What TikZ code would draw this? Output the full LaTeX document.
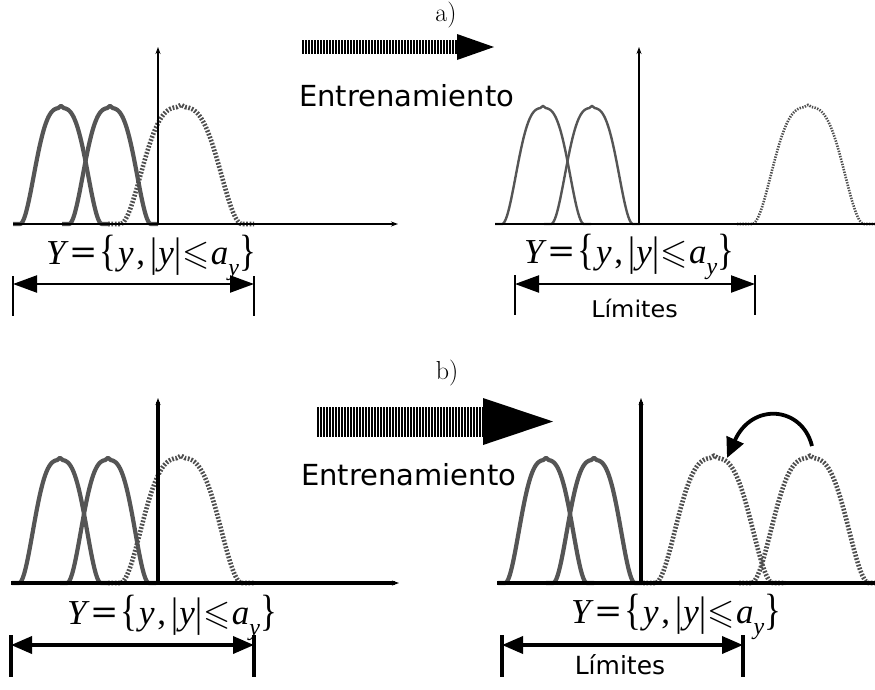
\documentclass[tikz,border=0pt]{standalone}
\usepackage{fontspec}
\usepackage{amssymb}
\usepackage{graphicx}
\usetikzlibrary{arrows.meta}
\newfontfamily\dejavu{DejaVu Sans}
\newfontfamily\libser{Liberation Serif}
\definecolor{curvegray}{HTML}{555555}
\definecolor{dotgray}{HTML}{4E4E4E}

\newcommand\ybar{\raisebox{-0.06em}{\scalebox{1}[1.18]{\libser |}}}
\newcommand\yformula{%
{\libser\itshape Y}\hspace{0.14em}\scalebox{1.3}[1]{\libser\bfseries =}\hspace{0.08em}\raisebox{-0.05em}{\scalebox{1}[1.25]{\libser\{}}\hspace{0.06em}{\libser\itshape y}\hspace{0.08em}{\libser ,}\hspace{0.14em}\ybar\hspace{0.04em}{\libser\itshape y}\hspace{0.02em}\ybar\hspace{0.02em}$\leqslant$\hspace{0.04em}{\libser\itshape a}\raisebox{-0.32em}{\libser\itshape\fontsize{24}{24}\selectfont y}\raisebox{-0.05em}{\scalebox{1}[1.25]{\libser\}}}}

\newcommand\bellcurve[6]{%
  \draw[#1] ({#2-#3-#6},#4) -- plot[domain=-1:1,samples=121] ({#2+#3*\x},{#4-#5*bellf(\x)}) -- ({#2+#3+#6},#4);}

\tikzset{
  declare function={bellf(\u)=0.5*(1+cos(180*pow(abs(\u)+0.0001,1.45)))+0.018*max(0,1-abs(\u)/0.07);},
  solidthick/.style={draw=curvegray,line width=4.2pt,line join=round},
  solidthin/.style={draw=curvegray,line width=2.4pt,line join=round},
  dotthick/.style={draw=dotgray,line width=4.6pt,dash pattern=on 1.8pt off 1.6pt},
  dotthin/.style={draw=dotgray,line width=2.6pt,dash pattern=on 1.4pt off 1.3pt},
  axisthin/.style={draw=black,line width=2.2pt},
  axisthick/.style={draw=black,line width=3.6pt},
  axtip/.style={-{Stealth[length=7pt,width=5pt]}},
  dimthin/.style={draw=black,line width=2.2pt,{Triangle[length=24pt,width=17pt]}-{Triangle[length=24pt,width=17pt]}},
  dimthick/.style={draw=black,line width=3.6pt,{Triangle[length=21pt,width=17pt]}-{Triangle[length=21pt,width=17pt]}},
  tickthin/.style={draw=black,line width=2.6pt},
  tickthick/.style={draw=black,line width=4pt},
  fml/.style={font=\fontsize{35}{35}\selectfont,anchor=base,inner sep=0pt},
  sans/.style={font=\dejavu\fontsize{29}{29}\selectfont,anchor=base west,inner sep=0pt},
  lbl/.style={font=\fontsize{26}{26}\selectfont,inner sep=0pt,anchor=base},
}

\begin{document}
\begin{tikzpicture}[x=1pt,y=-1pt]
\useasboundingbox (0,0) rectangle (875,689);

% ---------- labels a) b)
\node[lbl] (la) at (446,21) {a)};
\node[lbl] (lb) at (447,379) {b)};

% ---------- hatched arrows
\foreach \i in {0,...,51} \fill[black] ({302+3*\i},40) rectangle ++(1.7,14);
\fill[black] (457,34) -- (494,47) -- (457,60) -- cycle;
\foreach \i in {0,...,55} \fill[black] ({317+3*\i},407) rectangle ++(1.7,30);
\fill[black] (483,398) -- (553,421.5) -- (483,445) -- cycle;

\node[sans] (e1) at (299,106) {Entrenamiento};
\node[sans] (e2) at (301,485) {Entrenamiento};

% ================= TOP LEFT
\coordinate (tlo) at (158,224);
\coordinate (tlx) at (398,224);
\coordinate (tly) at (158,47);
\coordinate (tlx0) at (13,224);
\bellcurve{solidthick}{61}{41}{224}{116}{7}
\bellcurve{solidthick}{110}{41}{224}{116}{7}
\bellcurve{dotthick}{181}{61}{224}{117}{12}
\draw[axisthin,axtip] (tlx0) -- (tlx);
\draw[axisthin,axtip] (tlo) -- (tly);
\node[fml] (f1) at (151,264) {\yformula};
\coordinate (d1a) at (13,284);
\coordinate (d1b) at (254,284);
\draw[tickthin] (13,276) -- (13,316);
\draw[tickthin] (254,276) -- (254,316);
\draw[dimthin] (d1a) -- (d1b);

% ================= TOP RIGHT
\coordinate (tro) at (639,224);
\coordinate (trx0) at (495,224);
\coordinate (trx) at (876,224);
\coordinate (try) at (639,47);
\bellcurve{solidthin}{543}{41}{224}{116}{7}
\bellcurve{solidthin}{592}{41}{224}{116}{7}
\bellcurve{dotthin}{808}{56}{224}{117}{15}
\draw[axisthin] (trx0) -- (trx);
\draw[axisthin,axtip] (tro) -- (try);
\node[fml] (f2) at (629,263) {\yformula};
\coordinate (d2a) at (515,284);
\coordinate (d2b) at (755,284);
\draw[tickthin] (515,275) -- (515,315);
\draw[tickthin] (755,275) -- (755,315);
\draw[dimthin] (d2a) -- (d2b);
\node[font=\dejavu\fontsize{23}{23}\selectfont,anchor=base,inner sep=0pt] (lim1) at (634.5,317) {\scalebox{1.04}[1]{Límites}};

% ================= BOTTOM LEFT
\coordinate (blo) at (158,583);
\coordinate (blx0) at (11,583);
\coordinate (blx) at (399,583);
\coordinate (bly) at (158,398);
\bellcurve{solidthick}{60}{41}{583}{123}{7}
\bellcurve{solidthick}{108}{41}{583}{123}{7}
\bellcurve{dotthick}{181}{61}{583}{125}{12}
\draw[axisthick,axtip] (blx0) -- (blx);
\draw[axisthick,axtip] (blo) -- (bly);
\node[fml] (f3) at (172,624) {\yformula};
\coordinate (d3a) at (11,645);
\coordinate (d3b) at (254,645);
\draw[tickthick] (11,635) -- (11,677);
\draw[tickthick] (254,635) -- (254,677);
\draw[dimthick] (d3a) -- (d3b);

% ================= BOTTOM RIGHT
\coordinate (bro) at (641,583);
\coordinate (brx0) at (497,583);
\coordinate (brx) at (876,583);
\coordinate (bry) at (641,398);
\bellcurve{solidthick}{546}{41}{583}{123}{7}
\bellcurve{solidthick}{594}{41}{583}{123}{7}
\bellcurve{dotthick}{714}{59}{583}{125}{12}
\bellcurve{dotthick}{810}{59}{583}{125}{12}
\draw[axisthick] (brx0) -- (brx);
\draw[axisthick,axtip] (bro) -- (bry);
\node[fml] (f4) at (676,623) {\yformula};
\coordinate (d4a) at (502,645);
\coordinate (d4b) at (743,645);
\draw[tickthick] (502,635) -- (502,677);
\draw[tickthick] (743,635) -- (743,677);
\draw[dimthick] (d4a) -- (d4b);
\node[font=\dejavu\fontsize{25}{25}\selectfont,anchor=base,inner sep=0pt] (lim2) at (620,674) {Límites};

% curved arrow
\coordinate (ca) at (812,446);
\coordinate (cb) at (727,458);
\draw[line width=3.8pt,-{Triangle[length=20pt,width=18pt]}] (ca) .. controls (802,406) and (752,402) .. (cb);
\end{tikzpicture}
\end{document}
